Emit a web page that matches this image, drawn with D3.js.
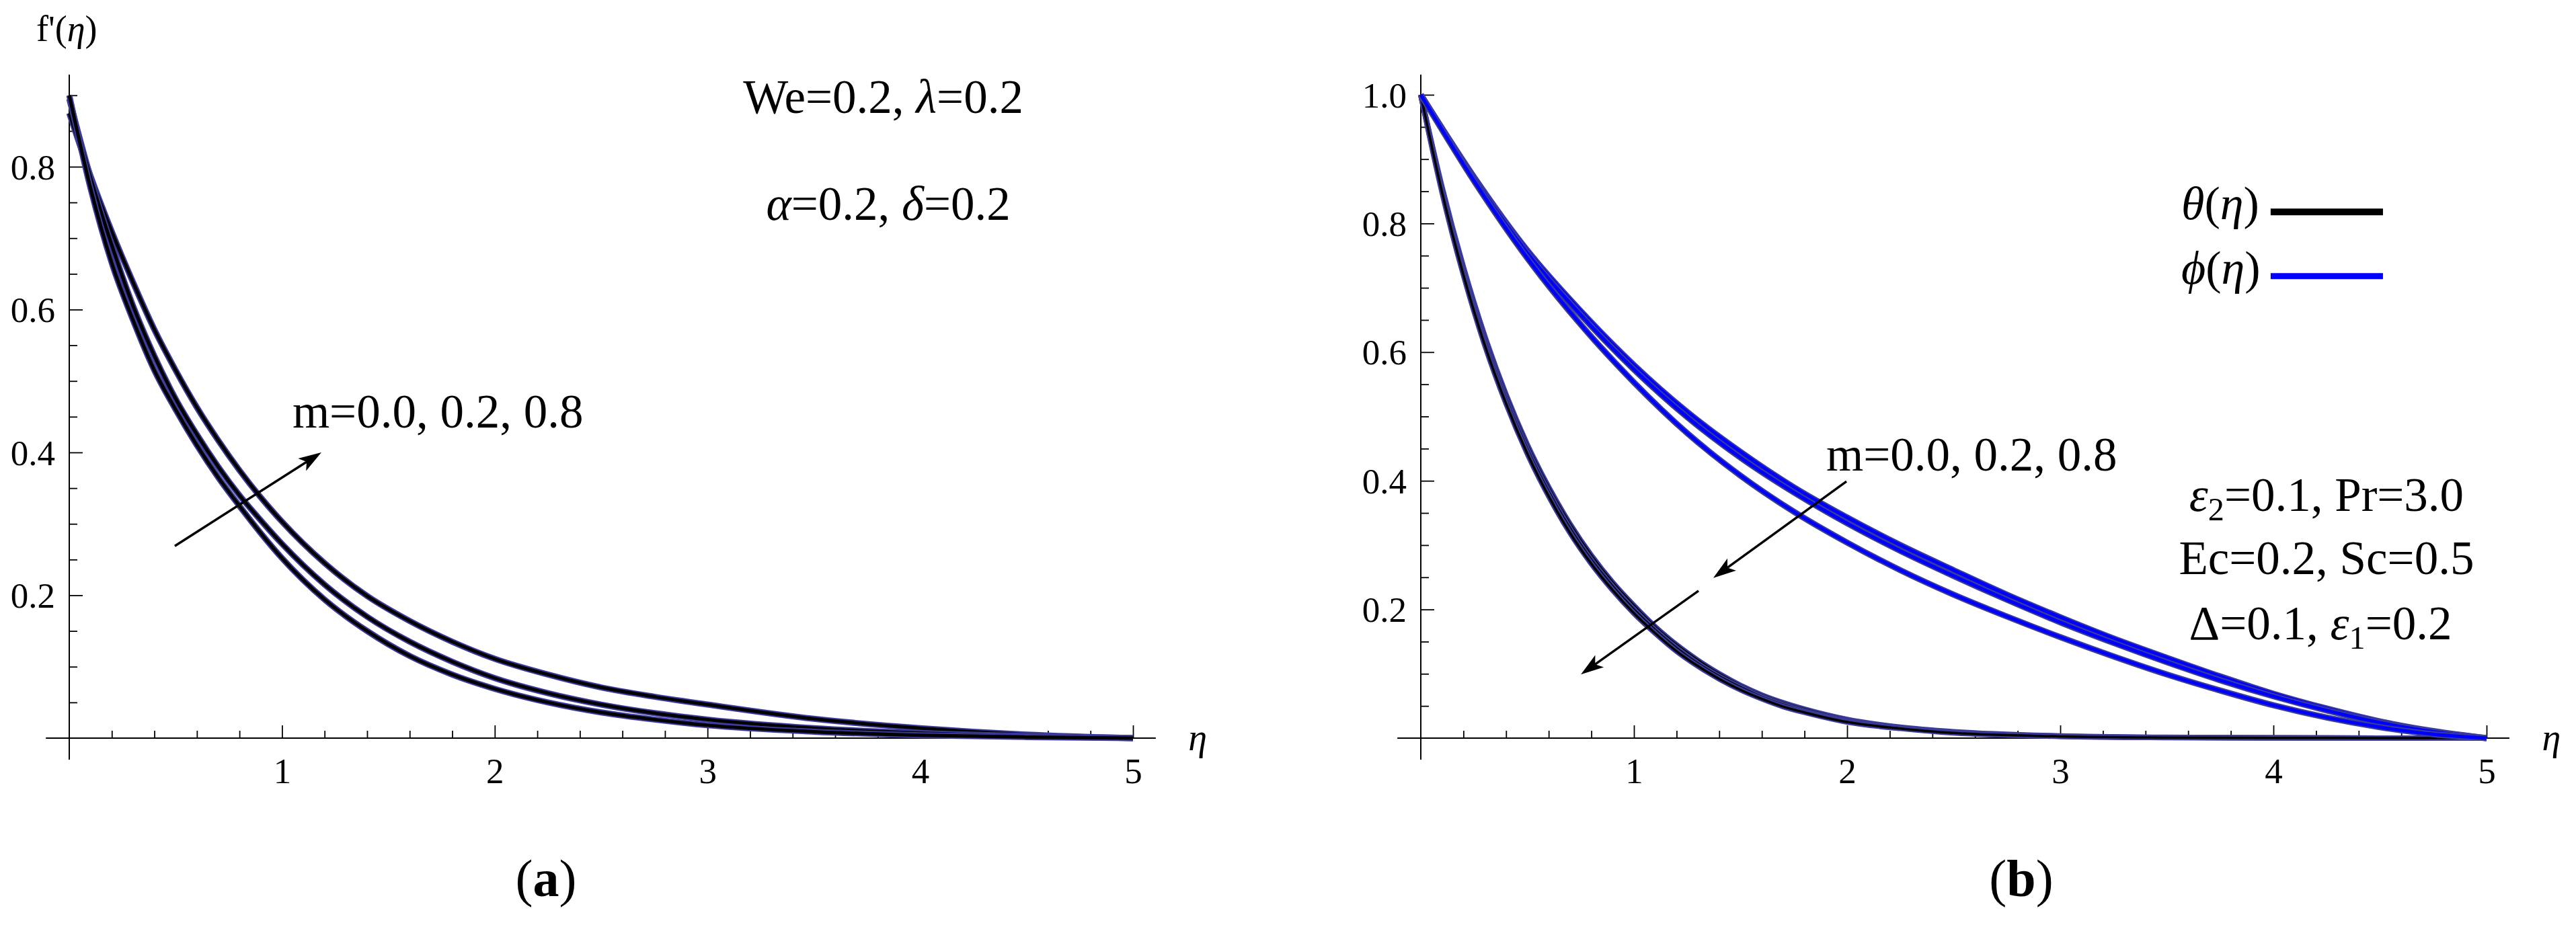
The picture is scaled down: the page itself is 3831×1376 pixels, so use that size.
<!DOCTYPE html>
<html><head><meta charset="utf-8">
<script src="https://cdn.jsdelivr.net/npm/d3@7"></script>
<style>
body{margin:0;background:#fff}
svg{display:block;background:#fff}
text{font-family:"Liberation Serif","Times New Roman",serif;fill:#000}
</style>
</head><body>
<svg id="chart" width="3831" height="1376"></svg>
<script>
// ---------------- DATA ----------------
// Panel (a): f'(eta) for m = 0.0, 0.2, 0.8
const etaF = [0,0.1,0.2,0.3,0.4,0.5,0.6,0.7,0.8,0.9,1.0,1.2,1.4,1.6,1.8,2.0,2.25,2.5,2.75,3.0,3.5,4.0,4.5,5.0];
const fp_m00 = [0.900,0.770,0.665,0.585,0.515,0.460,0.410,0.365,0.325,0.287,0.252,0.194,0.150,0.115,0.089,0.069,0.050,0.036,0.026,0.018,0.009,0.004,0.0015,0];
const fp_m02 = [0.895,0.785,0.690,0.605,0.535,0.475,0.425,0.380,0.340,0.305,0.272,0.215,0.170,0.135,0.107,0.084,0.063,0.047,0.035,0.026,0.014,0.007,0.003,0];
const fp_m08 = [0.875,0.787,0.709,0.638,0.572,0.515,0.463,0.417,0.375,0.337,0.303,0.245,0.199,0.164,0.135,0.111,0.089,0.071,0.058,0.047,0.027,0.014,0.005,0];

// Panel (b): theta(eta) and phi(eta) for m = 0.0, 0.2, 0.8
const etaTheta = [0,0.1,0.2,0.3,0.4,0.5,0.6,0.7,0.8,0.9,1.0,1.1,1.2,1.3,1.4,1.5,1.6,1.7,1.8,2.0,2.25,2.5,3.0,3.5,4.0,4.5,5.0];
const theta_m00 = [1.0,0.856,0.732,0.625,0.534,0.456,0.390,0.333,0.284,0.242,0.206,0.173,0.145,0.121,0.100,0.082,0.067,0.055,0.045,0.029,0.017,0.010,0.0035,0.0012,0.0004,0.0001,0];
const theta_m02 = [1.0,0.852,0.726,0.618,0.527,0.449,0.383,0.326,0.277,0.236,0.200,0.168,0.140,0.116,0.096,0.079,0.064,0.052,0.042,0.027,0.016,0.009,0.003,0.001,0.0004,0.0001,0];
const theta_m08 = [1.0,0.848,0.720,0.611,0.520,0.442,0.376,0.319,0.271,0.230,0.194,0.163,0.135,0.112,0.092,0.075,0.061,0.049,0.040,0.025,0.015,0.008,0.0027,0.0009,0.0003,0.0001,0];

const etaPhi = [0,0.25,0.5,0.75,1.0,1.25,1.5,1.75,2.0,2.25,2.5,2.75,3.0,3.25,3.5,3.75,4.0,4.25,4.5,4.75,5.0];
const phi_m00 = [1.0,0.872,0.758,0.664,0.580,0.507,0.445,0.390,0.343,0.300,0.261,0.223,0.188,0.155,0.125,0.096,0.069,0.046,0.026,0.011,0];
const phi_m02 = [1.0,0.870,0.754,0.658,0.573,0.499,0.436,0.382,0.334,0.291,0.252,0.215,0.180,0.148,0.118,0.090,0.065,0.043,0.024,0.010,0];
const phi_m08 = [1.0,0.866,0.746,0.643,0.553,0.474,0.408,0.352,0.304,0.261,0.223,0.189,0.157,0.127,0.099,0.074,0.051,0.032,0.017,0.006,0];

// Ticks
const xMajor = [1,2,3,4,5];
const xMinor = [0.2,0.4,0.6,0.8,1.2,1.4,1.6,1.8,2.2,2.4,2.6,2.8,3.2,3.4,3.6,3.8,4.2,4.4,4.6,4.8];
const yMajorA = [0.2,0.4,0.6,0.8];
const yMinorA = [0.05,0.1,0.15,0.25,0.3,0.35,0.45,0.5,0.55,0.65,0.7,0.75,0.85,0.9];
const yMajorB = [0.2,0.4,0.6,0.8,1.0];
const yMinorB = [0.05,0.1,0.15,0.25,0.3,0.35,0.45,0.5,0.55,0.65,0.7,0.75,0.85,0.9,0.95];

// Annotation arrows, in data coordinates [eta, value]
const arrowA = [[0.496,0.269],[1.185,0.400]];
const arrowsB = [[[1.997,0.399],[1.372,0.249]], [[1.303,0.229],[0.751,0.099]]];

// ---------------- DRAW ----------------
const FONT = '"Liberation Serif","Times New Roman",serif';
const svg = d3.select("#chart");
svg.append("rect").attr("width",3831).attr("height",1376).attr("fill","#fff");

const HALO = "#3b3b9a";
const BLUE = "#0000ff";

function panel(cfg){
  const g = svg.append("g");
  const x = cfg.x, y = cfg.y;
  g.append("line").attr("x1",x(-0.11)).attr("x2",x(5.107)).attr("y1",y(0)).attr("y2",y(0))
    .attr("stroke","#000").attr("stroke-width",2);
  g.append("line").attr("x1",x(0)).attr("x2",x(0)).attr("y1",cfg.yBottom).attr("y2",cfg.yTop)
    .attr("stroke","#000").attr("stroke-width",2);

  const xm = g.append("g").attr("transform",`translate(0,${y(0)})`)
    .call(d3.axisBottom(x).tickValues(xMinor).tickSize(-11).tickFormat(""));
  const xM = g.append("g").attr("transform",`translate(0,${y(0)})`)
    .call(d3.axisBottom(x).tickValues(xMajor).tickSize(-19).tickFormat(d3.format("d")));
  const ym = g.append("g").attr("transform",`translate(${x(0)},0)`)
    .call(d3.axisLeft(y).tickValues(cfg.yMinor).tickSize(-12).tickFormat(""));
  const yM = g.append("g").attr("transform",`translate(${x(0)},0)`)
    .call(d3.axisLeft(y).tickValues(cfg.yMajor).tickSize(-20).tickFormat(d3.format(".1f")));
  [xm,xM,ym,yM].forEach(a=>{
    a.attr("font-family",FONT);
    a.select(".domain").remove();
    a.selectAll(".tick line").attr("stroke","#000").attr("stroke-width",1.8);
  });
  xM.selectAll(".tick text").attr("y",67).attr("dy",0)
    .attr("font-size",53).attr("font-family",FONT).attr("fill","#000");
  yM.selectAll(".tick text").attr("x",-21).attr("dy","0.34em")
    .attr("font-size",53).attr("font-family",FONT).attr("fill","#000");

  g.append("text").attr("x",x(5.26)).attr("y",y(0)+18).attr("font-family",FONT)
    .attr("font-size",56).attr("font-style","italic").text("η");
  return g;
}

const xA = d3.scaleLinear().domain([0,5]).range([103,1685]);
const yA = d3.scaleLinear().domain([0,0.8]).range([1098,248]);
const xB = d3.scaleLinear().domain([0,5]).range([2113,3698]);
const yB = d3.scaleLinear().domain([0,1]).range([1098,141]);

const gA = panel({x:xA,y:yA,yMajor:yMajorA,yMinor:yMinorA,yTop:111,yBottom:1130});
const gB = panel({x:xB,y:yB,yMajor:yMajorB,yMinor:yMinorB,yTop:111,yBottom:1130});

function drawCurve(g, xs, ys, etas, vals, core, coreW, haloW){
  const line = d3.line().x((d,i)=>xs(etas[i])).y(d=>ys(d)).curve(d3.curveMonotoneX);
  g.append("path").attr("d",line(vals)).attr("fill","none").attr("stroke",HALO)
    .attr("stroke-width",haloW).attr("stroke-linejoin","round");
  g.append("path").attr("d",line(vals)).attr("fill","none").attr("stroke",core)
    .attr("stroke-width",coreW).attr("stroke-linejoin","round");
}

[fp_m08, fp_m02, fp_m00].forEach(s=>drawCurve(gA,xA,yA,etaF,s,"#000",5,9));
[theta_m00, theta_m02, theta_m08].forEach(s=>drawCurve(gB,xB,yB,etaTheta,s,"#000",3.5,8));
[phi_m00, phi_m02, phi_m08].forEach(s=>drawCurve(gB,xB,yB,etaPhi,s,BLUE,5,9));

function arrow(g, xs, ys, p0, p1){
  const x0=xs(p0[0]), y0=ys(p0[1]), x1=xs(p1[0]), y1=ys(p1[1]);
  const dx=x1-x0, dy=y1-y0, len=Math.hypot(dx,dy);
  const ux=dx/len, uy=dy/len, nx=-uy, ny=ux;
  const L=34, Wd=11, N=8;
  g.append("line").attr("x1",x0).attr("y1",y0).attr("x2",x1-ux*(L-10)).attr("y2",y1-uy*(L-10))
    .attr("stroke","#000").attr("stroke-width",3.5);
  const pts=[[x1,y1],[x1-ux*L+nx*Wd,y1-uy*L+ny*Wd],[x1-ux*(L-N),y1-uy*(L-N)],[x1-ux*L-nx*Wd,y1-uy*L-ny*Wd]];
  g.append("polygon").attr("points",pts.map(p=>p.join(",")).join(" ")).attr("fill","#000");
}
arrow(gA,xA,yA,arrowA[0],arrowA[1]);
arrowsB.forEach(a=>arrow(gB,xB,yB,a[0],a[1]));

// ---------- texts ----------
const FS = 71;
const yl = gA.append("text").attr("x",xA(0)-49).attr("y",61).attr("font-size",54).attr("font-family",FONT);
yl.append("tspan").text("f'(");
yl.append("tspan").attr("font-style","italic").text("η");
yl.append("tspan").text(")");

function mixed(g, xpos, ypos, parts, anchor){
  const t = g.append("text").attr("x",xpos).attr("y",ypos).attr("font-size",FS)
    .attr("font-family",FONT).attr("text-anchor",anchor||"start");
  parts.forEach(p=>{
    const s = t.append("tspan").text(p.t);
    if(p.i) s.attr("font-style","italic");
    if(p.sub) s.attr("font-size",FS*0.68).attr("dy",14);
    if(p.up) s.attr("dy",-14);
  });
  return t;
}
mixed(gA, xA(3.826), yA(0.875), [{t:"We=0.2, "},{t:"λ",i:1},{t:"=0.2"}], "middle");
mixed(gA, xA(3.85), yA(0.7255), [{t:"α",i:1},{t:"=0.2, "},{t:"δ",i:1},{t:"=0.2"}], "middle");
mixed(gA, xA(1.049), yA(0.4346), [{t:"m=0.0, 0.2, 0.8"}]);

mixed(gB, xB(1.902), yB(0.4154), [{t:"m=0.0, 0.2, 0.8"}]);
mixed(gB, xB(4.249), yB(0.3528), [{t:"ε",i:1},{t:"2",sub:1},{t:"=0.1, Pr=3.0",up:1}], "middle");
mixed(gB, xB(4.249), yB(0.2547), [{t:"Ec=0.2, Sc=0.5"}], "middle");
mixed(gB, xB(4.221), yB(0.1534), [{t:"Δ=0.1, "},{t:"ε",i:1},{t:"1",sub:1},{t:"=0.2",up:1}], "middle");

function legendItem(label, color, tBase, lineV, w){
  const t = gB.append("text").attr("x",xB(3.568)).attr("y",yB(tBase)).attr("font-size",70).attr("font-family",FONT);
  t.append("tspan").attr("font-style","italic").text(label);
  t.append("tspan").text("(");
  t.append("tspan").attr("font-style","italic").text("η");
  t.append("tspan").text(")");
  gB.append("line").attr("x1",xB(3.987)).attr("x2",xB(4.514)).attr("y1",yB(lineV)).attr("y2",yB(lineV))
    .attr("stroke",color).attr("stroke-width",w);
}
legendItem("θ","#000",0.807,0.818,10);
legendItem("ϕ",BLUE,0.7067,0.718,9);

function caption(xc, letter){
  const t = svg.append("text").attr("x",xc).attr("y",1333).attr("font-size",78)
    .attr("font-family",FONT).attr("text-anchor","middle");
  t.append("tspan").text("(");
  t.append("tspan").attr("font-weight","bold").text(letter);
  t.append("tspan").text(")");
}
caption(812,"a");
caption(3006,"b");
</script>
</body></html>
